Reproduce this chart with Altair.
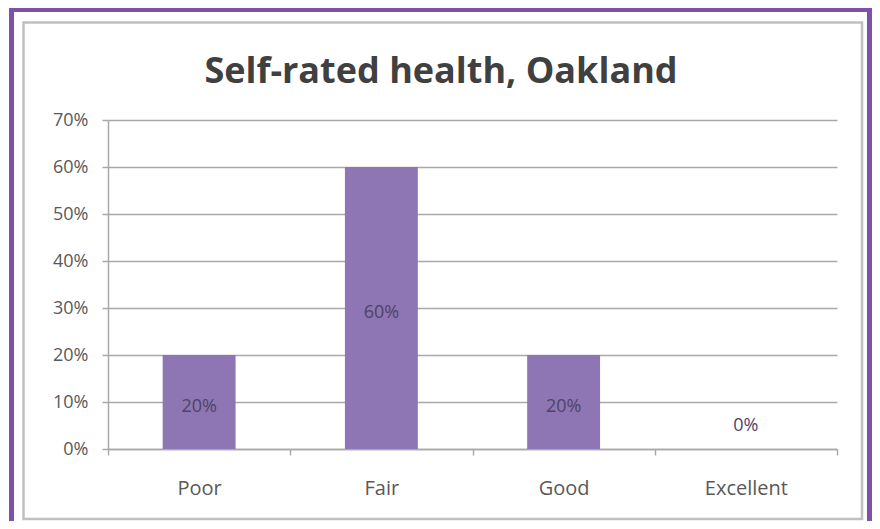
import altair as alt
import pandas as pd

categories = ["Poor", "Fair", "Good", "Excellent"]
values = [0.20, 0.60, 0.20, 0.0]
bar_labels = ["20%", "60%", "20%", "0%"]
y_ticks = [0, 0.1, 0.2, 0.3, 0.4, 0.5, 0.6, 0.7]
title_text = "Self-rated health, Oakland"

df = pd.DataFrame({"category": categories, "value": values, "label": bar_labels})

FONT = "Open Sans"
GRID = "#a9a9a9"
BAR = "#8d76b3"

xscale = alt.Scale(domain=categories, paddingInner=0, paddingOuter=0)
yscale = alt.Scale(domain=[0, 0.7])

base = alt.Chart(df)

bars = base.mark_bar(color=BAR, width=alt.RelativeBandSize(0.4)).encode(
    x=alt.X("category:N", sort=categories, scale=xscale,
            axis=alt.Axis(title=None, labelAngle=0, tickBand="extent", grid=False,
                          domainColor=GRID, domainWidth=1.5, tickColor=GRID, tickWidth=1.5,
                          tickSize=6, labelFont=FONT, labelFontSize=20, labelColor="#595959",
                          labelPadding=33, labelBaseline="middle")),
    y=alt.Y("value:Q", scale=yscale,
            axis=alt.Axis(title=None, values=y_ticks, format=".0%", grid=True,
                          gridColor=GRID, gridWidth=1.5, domainColor=GRID, domainWidth=1.5,
                          tickColor=GRID, tickWidth=1.5, tickSize=6, labelFont=FONT,
                          labelFontSize=18, labelColor="#595959", labelPadding=14)),
)

texts = base.transform_calculate(
    labelpos="datum.value == 0 ? 0.06 : datum.value / 2"
).mark_text(font=FONT, fontSize=18, color="#4f4366", baseline="middle", dy=5).encode(
    x=alt.X("category:N", sort=categories, scale=xscale),
    y=alt.Y("labelpos:Q", scale=yscale),
    text="label:N",
)

one = alt.Data(values=[{"k": 1}])

purple_frame = alt.Chart(one).mark_rect(filled=False, stroke="#7d52a8", strokeWidth=5).encode(
    x=alt.value(-96.5), x2=alt.value(761.5), y=alt.value(-110.5), y2=alt.value(420)
)
gray_frame = alt.Chart(one).mark_rect(filled=False, stroke="#c0c0c0", strokeWidth=2.5).encode(
    x=alt.value(-84.5), x2=alt.value(754), y=alt.value(-97.5), y2=alt.value(399)
)

title = alt.Chart(pd.DataFrame({"t": [title_text]})).mark_text(
    font=FONT, fontSize=36, fontWeight="bold", color="#404040", align="center",
    baseline="alphabetic"
).encode(x=alt.value(333), y=alt.value(-37), text="t:N")

chart = alt.layer(gray_frame, purple_frame, bars, texts, title).properties(
    width=729, height=329,
    autosize=alt.AutoSizeParams(type="none"),
    padding={"left": 100, "top": 112, "right": 35, "bottom": 72},
    background="white",
).configure_view(stroke=None)

chart.save("out.html", embed_options={"renderer": "svg", "actions": False})
